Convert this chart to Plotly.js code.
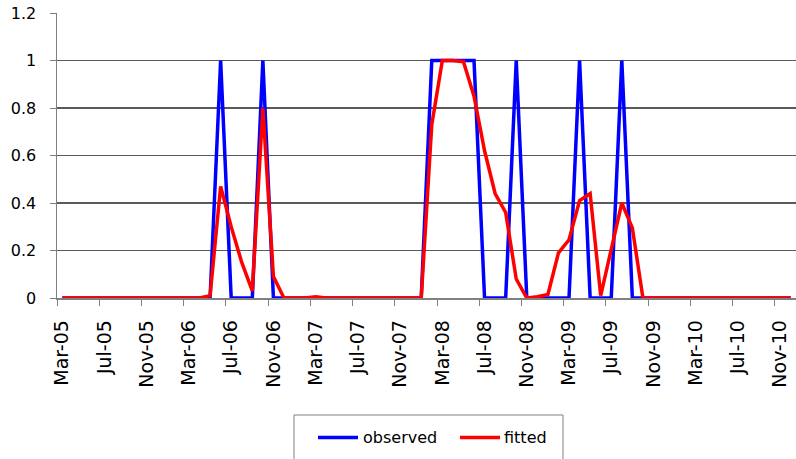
<!DOCTYPE html>
<html>
<head>
<meta charset="utf-8">
<script src="https://cdn.plot.ly/plotly-3.0.1.min.js"></script>
<style>
  html, body { margin: 0; padding: 0; background: #ffffff; overflow: hidden; }
  #chart { width: 796px; height: 459px; }
</style>
</head>
<body>
<div id="chart"></div>
<script>
// ---- data ----
var months = [
  "Mar-05","Apr-05","May-05","Jun-05","Jul-05","Aug-05","Sep-05","Oct-05","Nov-05","Dec-05",
  "Jan-06","Feb-06","Mar-06","Apr-06","May-06","Jun-06","Jul-06","Aug-06","Sep-06","Oct-06",
  "Nov-06","Dec-06","Jan-07","Feb-07","Mar-07","Apr-07","May-07","Jun-07","Jul-07","Aug-07",
  "Sep-07","Oct-07","Nov-07","Dec-07","Jan-08","Feb-08","Mar-08","Apr-08","May-08","Jun-08",
  "Jul-08","Aug-08","Sep-08","Oct-08","Nov-08","Dec-08","Jan-09","Feb-09","Mar-09","Apr-09",
  "May-09","Jun-09","Jul-09","Aug-09","Sep-09","Oct-09","Nov-09","Dec-09","Jan-10","Feb-10",
  "Mar-10","Apr-10","May-10","Jun-10","Jul-10","Aug-10","Sep-10","Oct-10","Nov-10","Dec-10"
];

var observed = [
  0,0,0,0,0,0,0,0,0,0,
  0,0,0,0,0,1,0,0,0,1,
  0,0,0,0,0,0,0,0,0,0,
  0,0,0,0,0,1,1,1,1,1,
  0,0,0,1,0,0,0,0,0,1,
  0,0,0,1,0,0,0,0,0,0,
  0,0,0,0,0,0,0,0,0,0
];

var fitted = [
  0,0,0,0,0,0,0,0,0,0,
  0,0,0,0,0.01,0.47,0.30,0.15,0.03,0.80,
  0.09,0,0,0,0.005,0,0,0,0,0,
  0,0,0,0,0,0.73,1.0,1.0,0.995,0.85,
  0.62,0.44,0.36,0.08,0,0.005,0.015,0.19,0.245,0.41,
  0.44,0.01,0.20,0.40,0.295,0,0,0,0,0,
  0,0,0,0,0,0,0,0,0,0
];

var seriesNames = ["observed", "fitted"];
var seriesColors = ["#0000ff", "#ff0000"];
var yTicks = [0, 0.2, 0.4, 0.6, 0.8, 1, 1.2];
var yTickText = ["0", "0.2", "0.4", "0.6", "0.8", "1", "1.2"];

// ---- traces ----
var traces = [
  {
    x: months, y: observed, type: "scatter", mode: "lines",
    name: seriesNames[0], line: { color: seriesColors[0], width: 3.5 },
    showlegend: false, hoverinfo: "x+y"
  },
  {
    x: months, y: fitted, type: "scatter", mode: "lines",
    name: seriesNames[1], line: { color: seriesColors[1], width: 3.5 },
    showlegend: false, hoverinfo: "x+y"
  }
];

// ---- custom legend (box, line samples, labels) ----
var legendShapes = [
  { type: "rect", xref: "paper", yref: "paper",
    x0: (294 - 57) / 739, x1: (563 - 57) / 739,
    y0: (298 - 462) / 285, y1: (298 - 415) / 285,
    line: { color: "#808080", width: 1 }, fillcolor: "rgba(0,0,0,0)" },
  { type: "line", xref: "paper", yref: "paper",
    x0: (318 - 57) / 739, x1: (358 - 57) / 739,
    y0: (298 - 437.5) / 285, y1: (298 - 437.5) / 285,
    line: { color: seriesColors[0], width: 3.5 } },
  { type: "line", xref: "paper", yref: "paper",
    x0: (460 - 57) / 739, x1: (500 - 57) / 739,
    y0: (298 - 437.5) / 285, y1: (298 - 437.5) / 285,
    line: { color: seriesColors[1], width: 3.5 } }
];
var legendAnnotations = [
  { xref: "paper", yref: "paper", x: (361 - 57) / 739, y: (298 - 437.5) / 285,
    xanchor: "left", yanchor: "middle", showarrow: false, text: seriesNames[0],
    font: { family: "DejaVu Sans, Verdana, sans-serif", size: 16, color: "#000000" } },
  { xref: "paper", yref: "paper", x: (502 - 57) / 739, y: (298 - 437.5) / 285,
    xanchor: "left", yanchor: "middle", showarrow: false, text: seriesNames[1],
    font: { family: "DejaVu Sans, Verdana, sans-serif", size: 16, color: "#000000" } }
];

var layout = {
  width: 796,
  height: 459,
  margin: { l: 57, r: 0, t: 13, b: 161, pad: 0 },
  paper_bgcolor: "#ffffff",
  plot_bgcolor: "#ffffff",
  showlegend: false,
  xaxis: {
    type: "category",
    categoryorder: "array",
    categoryarray: months,
    range: [-0.5, 69.5],
    tickmode: "linear",
    tick0: 0,
    dtick: 4,
    tickson: "boundaries",
    ticks: "outside",
    ticklen: 6,
    tickwidth: 1,
    tickcolor: "#808080",
    tickangle: -90,
    ticklabelstandoff: 13,
    tickfont: { family: "DejaVu Sans, Verdana, sans-serif", size: 19, color: "#000000" },
    showgrid: false,
    zeroline: false,
    showline: true,
    linecolor: "#808080",
    linewidth: 1.5,
    fixedrange: true
  },
  yaxis: {
    range: [0, 1.2],
    tickmode: "array",
    tickvals: yTicks,
    ticktext: yTickText,
    ticks: "outside",
    ticklen: 6,
    tickwidth: 1,
    tickcolor: "#808080",
    ticklabelstandoff: 10,
    tickfont: { family: "DejaVu Sans, Verdana, sans-serif", size: 16, color: "#000000" },
    showgrid: true,
    gridcolor: "#5a5a5a",
    gridwidth: 1.3,
    zeroline: false,
    showline: true,
    linecolor: "#808080",
    linewidth: 1.5,
    fixedrange: true
  },
  shapes: legendShapes,
  annotations: legendAnnotations
};

Plotly.newPlot("chart", traces, layout, { displayModeBar: false, staticPlot: true });
</script>
</body>
</html>
